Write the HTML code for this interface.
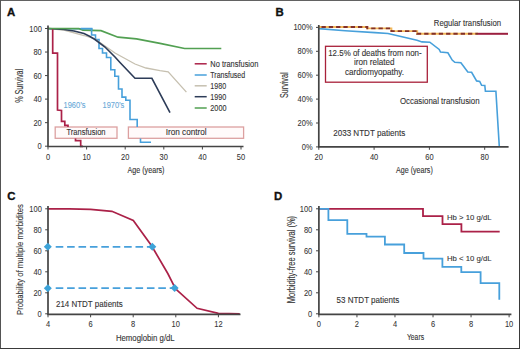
<!DOCTYPE html>
<html><head><meta charset="utf-8"><style>
html,body{margin:0;padding:0;background:#fff;overflow:hidden;}
svg{display:block;}
text{font-family:"Liberation Sans",sans-serif;}
.ax{stroke:#444;stroke-width:1.7;fill:none;}
.tk{stroke:#444;stroke-width:1;fill:none;}
.pl{font-size:11.4px;font-weight:bold;fill:#111;stroke:#111;stroke-width:0.35;}
</style></head><body>
<svg width="520" height="349" viewBox="0 0 520 349">
<rect x="0" y="0" width="520" height="349" fill="#fff"/>
<path d="M0,0.5 H520" stroke="#626262" stroke-width="1"/>
<path d="M0.5,0 V349" stroke="#545454" stroke-width="1"/>
<path d="M519.5,0 V349" stroke="#3a3a3a" stroke-width="1"/>
<path d="M0,348.5 H520" stroke="#3a3a3a" stroke-width="1"/>
<text class="pl" x="7" y="15.5">A</text>
<text class="pl" x="275.5" y="16">B</text>
<text class="pl" x="7.3" y="199.5">C</text>
<text class="pl" x="274" y="199.5">D</text>
<rect x="55.2" y="127" width="61.8" height="11.3" fill="#fffafa" stroke="#dca0a0" stroke-width="1.3"/>
<rect x="128.4" y="127" width="115.2" height="11.3" fill="#fffafa" stroke="#dca0a0" stroke-width="1.3"/>
<polyline points="48,28.7 91.6,28.7 91.6,35 95.5,35 95.5,39.5 99,39.5 99,48.5 102.5,48.5 102.5,53 106.5,53 106.5,57.5 110.8,57.5 110.8,69.8 114.8,69.8 114.8,76.2 118.5,76.2 118.5,89 122,89 122,97.1 125.8,97.1 125.8,100.3 130,100.3 130,119.5 137.2,119.5 137.2,127" fill="none" stroke="#47a0db" stroke-width="1.6" stroke-linejoin="miter" stroke-linecap="butt" />
<polyline points="140.5,138.5 140.5,142.2 151,142.2" fill="none" stroke="#47a0db" stroke-width="1.6" stroke-linejoin="miter" stroke-linecap="butt" />
<polyline points="48,28.5 64,30 84,35.5 95,39 105,46 115,53 125,58.5 135,64 146,68 160,70.7 168.2,71.9 186.4,92.1" fill="none" stroke="#c6c0b0" stroke-width="1.3" stroke-linejoin="miter" stroke-linecap="butt" />
<polyline points="48,28.5 64,29.5 74,31 84,33.5 90,36.5 95,39.5 105,47 115,57 120,62.5 135,78.3 151.9,78.3 170,112.6" fill="none" stroke="#2d3c58" stroke-width="1.6" stroke-linejoin="miter" stroke-linecap="butt" />
<polyline points="52.7,28.5 52.7,53.1 57.5,53.1 57.5,110 61.5,110.5 61.5,121.4 64.8,121.4 64.8,125.4 68,125.4 68,127" fill="none" stroke="#ab2148" stroke-width="1.7" stroke-linejoin="miter" stroke-linecap="butt" />
<polyline points="75.5,138.5 75.5,140.7 80.7,140.7 80.7,146.3 83,146.3" fill="none" stroke="#ab2148" stroke-width="1.7" stroke-linejoin="miter" stroke-linecap="butt" />
<polyline points="48,28.5 79,28.7 83,30.2 101,30.6 118,37.2 136.5,38.9 160,43.3 184.6,48.5 221.3,48.5" fill="none" stroke="#52a052" stroke-width="1.7" stroke-linejoin="miter" stroke-linecap="butt" />
<polyline points="80.6,28.6 91.6,28.6 91.6,31" fill="none" stroke="#47a0db" stroke-width="1.8" stroke-linejoin="miter" stroke-linecap="butt" />
<path d="M48,25.5 V146.5 H243.5" class="ax"/>
<path d="M45,146.2 H48" class="tk"/>
<text transform="translate(41.8,149.29) scale(1,1.15)" font-size="7.5" fill="#333" stroke="#333" stroke-width="0.06" text-anchor="end" >0</text>
<path d="M45,122.66 H48" class="tk"/>
<text transform="translate(41.8,125.75) scale(1,1.15)" font-size="7.5" fill="#333" stroke="#333" stroke-width="0.06" text-anchor="end" >20</text>
<path d="M45,99.12 H48" class="tk"/>
<text transform="translate(41.8,102.21) scale(1,1.15)" font-size="7.5" fill="#333" stroke="#333" stroke-width="0.06" text-anchor="end" >40</text>
<path d="M45,75.58 H48" class="tk"/>
<text transform="translate(41.8,78.67) scale(1,1.15)" font-size="7.5" fill="#333" stroke="#333" stroke-width="0.06" text-anchor="end" >60</text>
<path d="M45,52.04 H48" class="tk"/>
<text transform="translate(41.8,55.13) scale(1,1.15)" font-size="7.5" fill="#333" stroke="#333" stroke-width="0.06" text-anchor="end" >80</text>
<path d="M45,28.5 H48" class="tk"/>
<text transform="translate(41.8,31.59) scale(1,1.15)" font-size="7.5" fill="#333" stroke="#333" stroke-width="0.06" text-anchor="end" >100</text>
<path d="M48,146.5 V149.5" class="tk"/>
<text transform="translate(48,160) scale(1,1.15)" font-size="7.5" fill="#333" stroke="#333" stroke-width="0.06" text-anchor="middle" >0</text>
<path d="M86.6,146.5 V149.5" class="tk"/>
<text transform="translate(86.6,160) scale(1,1.15)" font-size="7.5" fill="#333" stroke="#333" stroke-width="0.06" text-anchor="middle" >10</text>
<path d="M125.2,146.5 V149.5" class="tk"/>
<text transform="translate(125.2,160) scale(1,1.15)" font-size="7.5" fill="#333" stroke="#333" stroke-width="0.06" text-anchor="middle" >20</text>
<path d="M163.8,146.5 V149.5" class="tk"/>
<text transform="translate(163.8,160) scale(1,1.15)" font-size="7.5" fill="#333" stroke="#333" stroke-width="0.06" text-anchor="middle" >30</text>
<path d="M202.4,146.5 V149.5" class="tk"/>
<text transform="translate(202.4,160) scale(1,1.15)" font-size="7.5" fill="#333" stroke="#333" stroke-width="0.06" text-anchor="middle" >40</text>
<path d="M241,146.5 V149.5" class="tk"/>
<text transform="translate(241,160) scale(1,1.15)" font-size="7.5" fill="#333" stroke="#333" stroke-width="0.06" text-anchor="middle" >50</text>
<text transform="translate(66.5,135) scale(1,1.15)" font-size="8" fill="#333" stroke="#333" stroke-width="0.1" textLength="39" lengthAdjust="spacingAndGlyphs" >Transfusion</text>
<text transform="translate(165.7,135) scale(1,1.15)" font-size="8" fill="#333" stroke="#333" stroke-width="0.1" textLength="41" lengthAdjust="spacingAndGlyphs" >Iron control</text>
<text transform="translate(63.5,108.2) scale(1,1.15)" font-size="7.5" fill="#6aaad8" stroke="#6aaad8" stroke-width="0.1" textLength="22" lengthAdjust="spacingAndGlyphs" >1960&#8217;s</text>
<text transform="translate(102.5,108.2) scale(1,1.15)" font-size="7.5" fill="#6aaad8" stroke="#6aaad8" stroke-width="0.1" textLength="21.8" lengthAdjust="spacingAndGlyphs" >1970&#8217;s</text>
<path d="M194.7,63.8 H206.7" stroke="#ab2148" stroke-width="1.5" fill="none"/>
<text transform="translate(210.3,66.8) scale(1,1.15)" font-size="7.5" fill="#333" stroke="#333" stroke-width="0.1" textLength="48" lengthAdjust="spacingAndGlyphs" >No transfusion</text>
<path d="M194.7,75 H206.7" stroke="#47a0db" stroke-width="1.5" fill="none"/>
<text transform="translate(210.3,78) scale(1,1.15)" font-size="7.5" fill="#333" stroke="#333" stroke-width="0.1" textLength="34.8" lengthAdjust="spacingAndGlyphs" >Transfused</text>
<path d="M194.7,85.8 H206.7" stroke="#c6c0b0" stroke-width="1.5" fill="none"/>
<text transform="translate(210.3,88.8) scale(1,1.15)" font-size="7.5" fill="#333" stroke="#333" stroke-width="0.1" textLength="15.8" lengthAdjust="spacingAndGlyphs" >1980</text>
<path d="M194.7,96.7 H206.7" stroke="#2d3c58" stroke-width="1.5" fill="none"/>
<text transform="translate(210.3,99.7) scale(1,1.15)" font-size="7.5" fill="#333" stroke="#333" stroke-width="0.1" textLength="16" lengthAdjust="spacingAndGlyphs" >1990</text>
<path d="M194.7,108 H206.7" stroke="#52a052" stroke-width="1.5" fill="none"/>
<text transform="translate(210.3,111) scale(1,1.15)" font-size="7.5" fill="#333" stroke="#333" stroke-width="0.1" textLength="16.2" lengthAdjust="spacingAndGlyphs" >2000</text>
<text transform="translate(127.5,172.5) scale(1,1.15)" font-size="8.2" fill="#333" stroke="#333" stroke-width="0.1" textLength="37" lengthAdjust="spacingAndGlyphs" >Age (years)</text>
<text transform="translate(23.4,85.85) rotate(-90) scale(1,1.15)" x="0" y="0" font-size="9.2" fill="#333" stroke="#333" stroke-width="0.1" text-anchor="middle" textLength="34" lengthAdjust="spacingAndGlyphs">% Survival</text>
<rect x="325.5" y="46.3" width="101.8" height="35.9" fill="#fff" stroke="#a8213a" stroke-width="1.3"/>
<text transform="translate(374.9,55.7) scale(1,1.15)" font-size="8" fill="#333" stroke="#333" stroke-width="0.1" text-anchor="middle" textLength="93.4" lengthAdjust="spacingAndGlyphs" >12.5% of deaths from non-</text>
<text transform="translate(374.3,64.8) scale(1,1.15)" font-size="8" fill="#333" stroke="#333" stroke-width="0.1" text-anchor="middle" textLength="40.6" lengthAdjust="spacingAndGlyphs" >iron related</text>
<text transform="translate(374.5,74.6) scale(1,1.15)" font-size="8" fill="#333" stroke="#333" stroke-width="0.1" text-anchor="middle" textLength="59" lengthAdjust="spacingAndGlyphs" >cardiomyopathy.</text>
<polyline points="318.8,28.6 345.2,30.7 375,32.6 388,33.5 397.7,35.8 417,40.3 422,41.9 429.8,42.2 439.2,49.4 440.5,52 447.9,52.8 452.2,60.1 454.8,62.3 460.9,62.8 467.8,72 471.6,72.3 476.6,80.9 479.7,81.4 481.6,85.3 484.8,85.5 485.4,91.3 495.9,91.3 499.3,146.5" fill="none" stroke="#47a0db" stroke-width="1.6" stroke-linejoin="miter" stroke-linecap="butt" />
<polyline points="318.8,27 367.3,27 367.3,28.4 391.4,28.4 391.4,31.1 417.2,31.1 417.2,33.8 478,33.8" fill="none" stroke="#f3b95a" stroke-width="1.9" stroke-linejoin="miter" stroke-linecap="butt" />
<polyline points="318.8,27 367.3,27 367.3,28.4 391.4,28.4 391.4,31.1 417.2,31.1 417.2,33.8 478,33.8" fill="none" stroke="#82302a" stroke-width="1.9" stroke-linejoin="miter" stroke-linecap="butt" stroke-dasharray="4.3,3" stroke-dashoffset="4.6"/>
<polyline points="478,33.8 508,33.8" fill="none" stroke="#9b1f3f" stroke-width="2.0" stroke-linejoin="miter" stroke-linecap="butt" />
<path d="M318.8,25 V146.8 H508.6" class="ax"/>
<path d="M316,146.9 H318.8" class="tk"/>
<text transform="translate(312.6,149.99) scale(1,1.15)" font-size="7.5" fill="#333" stroke="#333" stroke-width="0.06" text-anchor="end" >0%</text>
<path d="M316,123 H318.8" class="tk"/>
<text transform="translate(312.6,126.09) scale(1,1.15)" font-size="7.5" fill="#333" stroke="#333" stroke-width="0.06" text-anchor="end" >20%</text>
<path d="M316,99.1 H318.8" class="tk"/>
<text transform="translate(312.6,102.19) scale(1,1.15)" font-size="7.5" fill="#333" stroke="#333" stroke-width="0.06" text-anchor="end" >40%</text>
<path d="M316,75.2 H318.8" class="tk"/>
<text transform="translate(312.6,78.29) scale(1,1.15)" font-size="7.5" fill="#333" stroke="#333" stroke-width="0.06" text-anchor="end" >60%</text>
<path d="M316,51.3 H318.8" class="tk"/>
<text transform="translate(312.6,54.39) scale(1,1.15)" font-size="7.5" fill="#333" stroke="#333" stroke-width="0.06" text-anchor="end" >80%</text>
<path d="M316,27.4 H318.8" class="tk"/>
<text transform="translate(312.6,30.49) scale(1,1.15)" font-size="7.5" fill="#333" stroke="#333" stroke-width="0.06" text-anchor="end" >100%</text>
<path d="M318.8,146.8 V149.8" class="tk"/>
<text transform="translate(318.8,159.8) scale(1,1.15)" font-size="7.5" fill="#333" stroke="#333" stroke-width="0.06" text-anchor="middle" >20</text>
<path d="M374.1,146.8 V149.8" class="tk"/>
<text transform="translate(374.1,159.8) scale(1,1.15)" font-size="7.5" fill="#333" stroke="#333" stroke-width="0.06" text-anchor="middle" >40</text>
<path d="M429.4,146.8 V149.8" class="tk"/>
<text transform="translate(429.4,159.8) scale(1,1.15)" font-size="7.5" fill="#333" stroke="#333" stroke-width="0.06" text-anchor="middle" >60</text>
<path d="M484.7,146.8 V149.8" class="tk"/>
<text transform="translate(484.7,159.8) scale(1,1.15)" font-size="7.5" fill="#333" stroke="#333" stroke-width="0.06" text-anchor="middle" >80</text>
<text transform="translate(433.8,26.2) scale(1,1.15)" font-size="8" fill="#333" stroke="#333" stroke-width="0.1" textLength="67.2" lengthAdjust="spacingAndGlyphs" >Regular transfusion</text>
<text transform="translate(400,103.9) scale(1,1.15)" font-size="8" fill="#333" stroke="#333" stroke-width="0.1" textLength="79.6" lengthAdjust="spacingAndGlyphs" >Occasional transfusion</text>
<text transform="translate(333.2,136.2) scale(1,1.15)" font-size="8" fill="#333" stroke="#333" stroke-width="0.1" textLength="72" lengthAdjust="spacingAndGlyphs" >2033 NTDT patients</text>
<text transform="translate(396,173.2) scale(1,1.15)" font-size="8.2" fill="#333" stroke="#333" stroke-width="0.1" textLength="36.8" lengthAdjust="spacingAndGlyphs" >Age (years)</text>
<text transform="translate(287.7,85.25) rotate(-90) scale(1,1.15)" x="0" y="0" font-size="9.0" fill="#333" stroke="#333" stroke-width="0.1" text-anchor="middle" textLength="25.5" lengthAdjust="spacingAndGlyphs">Survival</text>
<path d="M55.7,246.8 H150" stroke="#47a0db" stroke-width="1.7" stroke-dasharray="7.6,3.8" fill="none"/>
<path d="M55.7,288.1 H172" stroke="#47a0db" stroke-width="1.7" stroke-dasharray="7.6,3.8" fill="none"/>
<polyline points="48,208.8 69.3,208.8 90.6,209.3 111.9,211.3 133.3,220.4 152.3,246.8 154.5,250.8 167.8,273.5 173.4,284.5 174.6,288 177.8,290.8 197.1,308.3 218.4,313.3 239.7,313.9" fill="none" stroke="#ab2148" stroke-width="1.7" stroke-linejoin="miter" stroke-linecap="butt" />
<path d="M48,206 V314.3 H240.5" class="ax"/>
<path d="M45.2,313.8 H48" class="tk"/>
<text transform="translate(41.8,316.89) scale(1,1.15)" font-size="7.5" fill="#333" stroke="#333" stroke-width="0.06" text-anchor="end" >0</text>
<path d="M45.2,292.8 H48" class="tk"/>
<text transform="translate(41.8,295.89) scale(1,1.15)" font-size="7.5" fill="#333" stroke="#333" stroke-width="0.06" text-anchor="end" >20</text>
<path d="M45.2,271.8 H48" class="tk"/>
<text transform="translate(41.8,274.89) scale(1,1.15)" font-size="7.5" fill="#333" stroke="#333" stroke-width="0.06" text-anchor="end" >40</text>
<path d="M45.2,250.8 H48" class="tk"/>
<text transform="translate(41.8,253.89) scale(1,1.15)" font-size="7.5" fill="#333" stroke="#333" stroke-width="0.06" text-anchor="end" >60</text>
<path d="M45.2,229.8 H48" class="tk"/>
<text transform="translate(41.8,232.89) scale(1,1.15)" font-size="7.5" fill="#333" stroke="#333" stroke-width="0.06" text-anchor="end" >80</text>
<path d="M45.2,208.8 H48" class="tk"/>
<text transform="translate(41.8,211.89) scale(1,1.15)" font-size="7.5" fill="#333" stroke="#333" stroke-width="0.06" text-anchor="end" >100</text>
<path d="M48,314.3 V317.3" class="tk"/>
<text transform="translate(48,327.3) scale(1,1.15)" font-size="7.5" fill="#333" stroke="#333" stroke-width="0.06" text-anchor="middle" >4</text>
<path d="M90.6,314.3 V317.3" class="tk"/>
<text transform="translate(90.6,327.3) scale(1,1.15)" font-size="7.5" fill="#333" stroke="#333" stroke-width="0.06" text-anchor="middle" >6</text>
<path d="M133.2,314.3 V317.3" class="tk"/>
<text transform="translate(133.2,327.3) scale(1,1.15)" font-size="7.5" fill="#333" stroke="#333" stroke-width="0.06" text-anchor="middle" >8</text>
<path d="M175.8,314.3 V317.3" class="tk"/>
<text transform="translate(175.8,327.3) scale(1,1.15)" font-size="7.5" fill="#333" stroke="#333" stroke-width="0.06" text-anchor="middle" >10</text>
<path d="M218.4,314.3 V317.3" class="tk"/>
<text transform="translate(218.4,327.3) scale(1,1.15)" font-size="7.5" fill="#333" stroke="#333" stroke-width="0.06" text-anchor="middle" >12</text>
<path d="M47.8,242.8 L51.8,246.8 L47.8,250.8 L43.8,246.8 Z" fill="#3da3d8"/>
<path d="M152.3,242.8 L156.3,246.8 L152.3,250.8 L148.3,246.8 Z" fill="#3da3d8"/>
<path d="M47.8,284.2 L51.8,288.2 L47.8,292.2 L43.8,288.2 Z" fill="#3da3d8"/>
<path d="M174.6,284 L178.6,288 L174.6,292 L170.6,288 Z" fill="#3da3d8"/>
<text transform="translate(56,306.9) scale(1,1.15)" font-size="8" fill="#333" stroke="#333" stroke-width="0.1" textLength="66.7" lengthAdjust="spacingAndGlyphs" >214 NTDT patients</text>
<text transform="translate(115.9,340.6) scale(1,1.15)" font-size="8.2" fill="#333" stroke="#333" stroke-width="0.1" textLength="58.8" lengthAdjust="spacingAndGlyphs" >Hemoglobin g/dL</text>
<text transform="translate(23,259.5) rotate(-90) scale(1,1.15)" x="0" y="0" font-size="8.4" fill="#333" stroke="#333" stroke-width="0.1" text-anchor="middle" textLength="110.9" lengthAdjust="spacingAndGlyphs">Probability of multiple morbidites</text>
<polyline points="318.9,208.8 423,208.8 423,216.1 442.5,216.1 442.5,224.2 461.4,224.2 461.4,231.6 499.7,231.6" fill="none" stroke="#ab2148" stroke-width="1.8" stroke-linejoin="miter" stroke-linecap="butt" />
<polyline points="318.9,208.8 328.4,208.8 328.4,220.2 347.3,220.2 347.3,233.8 366.5,233.8 366.5,236.6 384.9,236.6 384.9,244.5 404.2,244.5 404.2,253 423.5,253 423.5,258.6 442.4,258.6 442.4,266.8 461.3,266.8 461.3,272.1 480.6,272.1 480.6,283.2 499.3,283.2 499.3,299.8" fill="none" stroke="#47a0db" stroke-width="1.8" stroke-linejoin="miter" stroke-linecap="butt" />
<path d="M318.9,206 V314.3 H511.4" class="ax"/>
<path d="M316,313.8 H318.9" class="tk"/>
<text transform="translate(312.3,316.89) scale(1,1.15)" font-size="7.5" fill="#333" stroke="#333" stroke-width="0.06" text-anchor="end" >0</text>
<path d="M316,292.8 H318.9" class="tk"/>
<text transform="translate(312.3,295.89) scale(1,1.15)" font-size="7.5" fill="#333" stroke="#333" stroke-width="0.06" text-anchor="end" >20</text>
<path d="M316,271.8 H318.9" class="tk"/>
<text transform="translate(312.3,274.89) scale(1,1.15)" font-size="7.5" fill="#333" stroke="#333" stroke-width="0.06" text-anchor="end" >40</text>
<path d="M316,250.8 H318.9" class="tk"/>
<text transform="translate(312.3,253.89) scale(1,1.15)" font-size="7.5" fill="#333" stroke="#333" stroke-width="0.06" text-anchor="end" >60</text>
<path d="M316,229.8 H318.9" class="tk"/>
<text transform="translate(312.3,232.89) scale(1,1.15)" font-size="7.5" fill="#333" stroke="#333" stroke-width="0.06" text-anchor="end" >80</text>
<path d="M316,208.8 H318.9" class="tk"/>
<text transform="translate(312.3,211.89) scale(1,1.15)" font-size="7.5" fill="#333" stroke="#333" stroke-width="0.06" text-anchor="end" >100</text>
<path d="M318.9,314.3 V317.3" class="tk"/>
<text transform="translate(318.9,327.3) scale(1,1.15)" font-size="7.5" fill="#333" stroke="#333" stroke-width="0.06" text-anchor="middle" >0</text>
<path d="M356.94,314.3 V317.3" class="tk"/>
<text transform="translate(356.94,327.3) scale(1,1.15)" font-size="7.5" fill="#333" stroke="#333" stroke-width="0.06" text-anchor="middle" >2</text>
<path d="M394.98,314.3 V317.3" class="tk"/>
<text transform="translate(394.98,327.3) scale(1,1.15)" font-size="7.5" fill="#333" stroke="#333" stroke-width="0.06" text-anchor="middle" >4</text>
<path d="M433.02,314.3 V317.3" class="tk"/>
<text transform="translate(433.02,327.3) scale(1,1.15)" font-size="7.5" fill="#333" stroke="#333" stroke-width="0.06" text-anchor="middle" >6</text>
<path d="M471.06,314.3 V317.3" class="tk"/>
<text transform="translate(471.06,327.3) scale(1,1.15)" font-size="7.5" fill="#333" stroke="#333" stroke-width="0.06" text-anchor="middle" >8</text>
<path d="M509.1,314.3 V317.3" class="tk"/>
<text transform="translate(509.1,327.3) scale(1,1.15)" font-size="7.5" fill="#333" stroke="#333" stroke-width="0.06" text-anchor="middle" >10</text>
<text transform="translate(447,220) scale(1,1.02)" font-size="7.7" fill="#333" stroke="#333" stroke-width="0.1" textLength="44.5" lengthAdjust="spacingAndGlyphs" >Hb &gt; 10 g/dL</text>
<text transform="translate(447,261.4) scale(1,1.02)" font-size="7.7" fill="#333" stroke="#333" stroke-width="0.1" textLength="44.5" lengthAdjust="spacingAndGlyphs" >Hb &lt; 10 g/dL</text>
<text transform="translate(336.5,302.8) scale(1,1.15)" font-size="8" fill="#333" stroke="#333" stroke-width="0.1" textLength="62.7" lengthAdjust="spacingAndGlyphs" >53 NTDT patients</text>
<text transform="translate(406.9,340.4) scale(1,1.15)" font-size="8.4" fill="#333" stroke="#333" stroke-width="0.1" textLength="17.2" lengthAdjust="spacingAndGlyphs" >Years</text>
<text transform="translate(294.9,259.6) rotate(-90) scale(1,1.15)" x="0" y="0" font-size="9.3" fill="#333" stroke="#333" stroke-width="0.1" text-anchor="middle" textLength="87.4" lengthAdjust="spacingAndGlyphs">Morbidity-free survival (%)</text>
</svg>
</body></html>
